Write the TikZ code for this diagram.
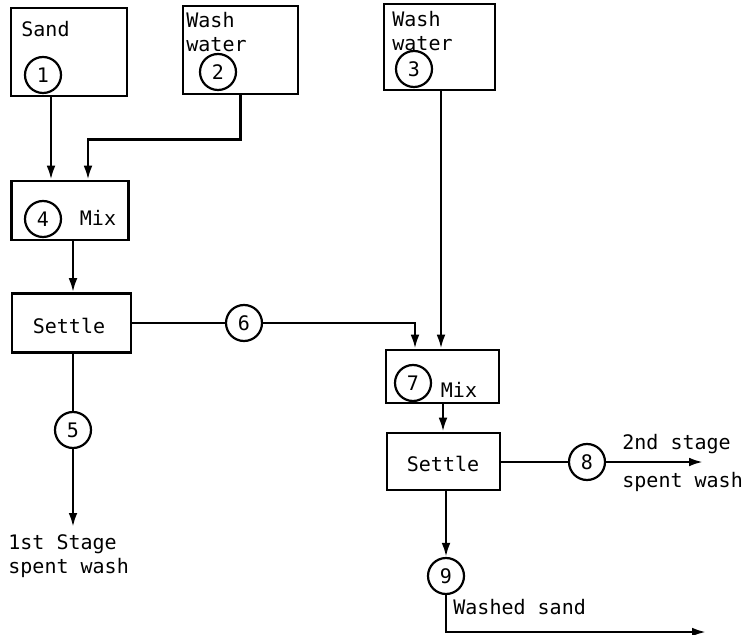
\documentclass[tikz,border=0pt]{standalone}
\usepackage{fontspec}
\setmonofont{DejaVu Sans Mono}
\usepackage{tikz}
\usetikzlibrary{arrows.meta,positioning,calc}
\tikzset{
  flow/.style={-{Latex[length=7pt,width=4.4pt]},line width=1.25pt},
  pipe/.style={line width=1.25pt},
  unit/.style={draw,line width=1.3pt,inner sep=0pt},
  stream/.style={circle,draw,line width=1.1pt,minimum size=18pt,inner sep=0pt,
    font=\ttfamily\fontsize{10}{12}\selectfont},
  tag/.style={font=\ttfamily\fontsize{10}{12}\selectfont,inner sep=0pt,align=left}
}

\begin{document}
\begin{tikzpicture}[x=0.5pt,y=-0.5pt]
\useasboundingbox (0,0) rectangle (748,635);
% feed boxes
\node[unit,minimum width=58pt,minimum height=44pt] (sand) at (69,52) {};
\node[unit,minimum width=57.5pt,minimum height=44pt] (washa) at (240.5,50) {};
\node[unit,minimum width=55.5pt,minimum height=43pt] (washb) at (439.5,47) {};
\node[tag,anchor=west] at (21,29) {Sand};
\node[tag,anchor=north west] at (186,12) {Wash\\water};
\node[tag,anchor=north west] at (392,11) {Wash\\water};
\node[stream] (c1) at (43,75) {1};
\node[stream] (c2) at (218,72) {2};
\node[stream] (c3) at (414,69) {3};
% first stage
\node[unit,minimum width=58.5pt,minimum height=29.5pt] (mixa) at (70,210.5) {};
\node[stream] (c4) at (43,219) {4};
\node[tag] at (98,218) {Mix};
\node[unit,minimum width=59.5pt,minimum height=29.5pt] (settlea) at (71.5,323) {};
\node[tag] at (69,326) {Settle};
\node[stream] (c5) at (73,430) {5};
\node[stream] (c6) at (244,323) {6};
\coordinate (outa) at (73,527);
\node[tag,anchor=north west] at (8,534) {1st Stage\\spent wash};
% second stage
\node[unit,minimum width=56.5pt,minimum height=26.5pt] (mixb) at (442.5,376.5) {};
\node[stream] (c7) at (413,383) {7};
\node[tag] at (459,390) {Mix};
\node[unit,minimum width=56.5pt,minimum height=28.5pt] (settleb) at (443.5,461.5) {};
\node[tag] at (443,464) {Settle};
\node[stream] (c8) at (587,462) {8};
\node[stream] (c9) at (446,576) {9};
\coordinate (outb) at (703,462);
\coordinate (outc) at (706,632);
\node[tag,anchor=north west] at (622,434) {2nd stage\\[7pt]spent wash};
\node[tag,anchor=west] at (453,607) {Washed sand};
% streams
\draw[flow] (51,0 |- sand.south)--(51,0 |- mixa.north);
\draw[flow] (washa.south)--++(0,44) -| (88,0 |- mixa.north);
\draw[flow] (73,0 |- mixa.south)--(73,0 |- settlea.north);
\draw[pipe] (settlea.east |- c6)--(c6);
\draw[flow] (c6) -| (415,0 |- mixb.north);
\draw[pipe] (73,0 |- settlea.south)--(c5);
\draw[flow] (c5)--(outa);
\draw[flow] (441,0 |- washb.south)--(441,0 |- mixb.north);
\draw[flow] (443,0 |- mixb.south)--(443,0 |- settleb.north);
\draw[pipe] (settleb.east |- c8)--(c8);
\draw[flow] (c8)--(outb);
\draw[flow] (446,0 |- settleb.south)--(c9);
\draw[flow] (c9) |- (outc);
\end{tikzpicture}
\end{document}
